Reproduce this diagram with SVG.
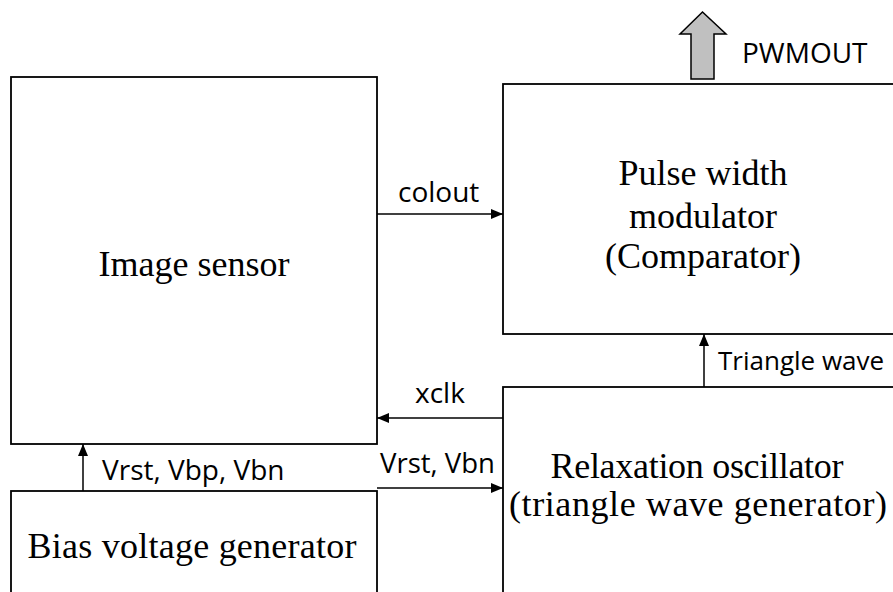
<svg xmlns="http://www.w3.org/2000/svg" width="893" height="592" viewBox="0 0 893 592">
<style>
.box{fill:#fff;stroke:#000;stroke-width:1.8}
.serif{font-family:"Liberation Serif","Times New Roman",serif;font-size:36px;fill:#000;text-anchor:middle}
.sans{font-family:"Open Sans","Noto Sans",sans-serif;font-size:28px;fill:#000}
.sans.small{font-size:26px}
.wire{stroke:#000;stroke-width:1.5;fill:none}
</style>
<defs>
<marker id="ah" viewBox="0 0 12 10" refX="12" refY="5" markerWidth="12" markerHeight="10" markerUnits="userSpaceOnUse" orient="auto">
<path d="M0,0 L12,5 L0,10 Z" fill="#000"/>
</marker>
</defs>
<g id="image-sensor">
<rect class="box" x="11" y="77" width="366" height="367"/>
<text class="serif" x="194" y="276">Image sensor</text>
</g>
<g id="pwm">
<rect class="box" x="503" y="84" width="400" height="250"/>
<text class="serif" x="703" y="185">Pulse width</text>
<text class="serif" x="703" y="228">modulator</text>
<text class="serif" x="703" y="268">(Comparator)</text>
</g>
<g id="relaxation-oscillator">
<rect class="box" x="503" y="387" width="400" height="215"/>
<text class="serif" x="697" y="478" textLength="293" lengthAdjust="spacing">Relaxation oscillator</text>
<text class="serif" x="698" y="516" textLength="378" lengthAdjust="spacing">(triangle wave generator)</text>
</g>
<g id="bias-generator">
<rect class="box" x="11" y="491" width="366" height="111"/>
<text class="serif" x="192" y="558" textLength="329" lengthAdjust="spacing">Bias voltage generator</text>
</g>
<g id="pwmout">
<polygon points="691,79 714,79 714,34 726,34 702.5,12 680,34 691,34" fill="#c0c0c0" stroke="#000" stroke-width="1.5"/>
<text class="sans" x="742" y="63">PWMOUT</text>
</g>
<g id="connectors">
<line class="wire" x1="377" y1="214" x2="503" y2="214" marker-end="url(#ah)"/>
<text class="sans" x="398" y="202">colout</text>
<line class="wire" x1="503" y1="418" x2="377" y2="418" marker-end="url(#ah)"/>
<text class="sans" x="415" y="403">xclk</text>
<line class="wire" x1="83" y1="491" x2="83" y2="444" marker-end="url(#ah)"/>
<text class="sans" x="102" y="480">Vrst, Vbp, Vbn</text>
<line class="wire" x1="377" y1="488" x2="503" y2="488" marker-end="url(#ah)"/>
<text class="sans" x="380" y="473" textLength="115" lengthAdjust="spacingAndGlyphs">Vrst, Vbn</text>
<line class="wire" x1="704" y1="387" x2="704" y2="334" marker-end="url(#ah)"/>
<text class="sans small" x="718" y="370">Triangle wave</text>
</g>
</svg>
